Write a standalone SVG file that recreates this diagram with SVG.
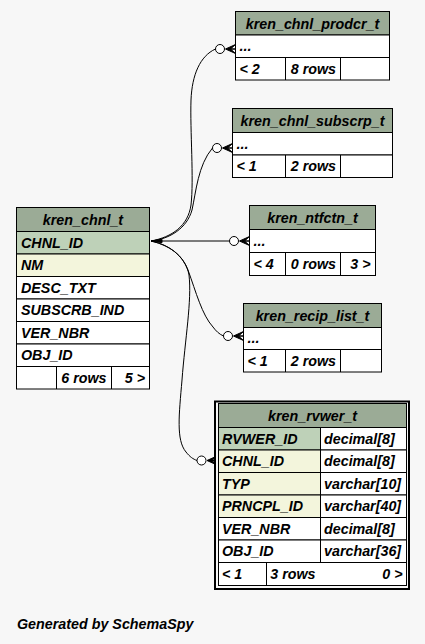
<svg xmlns="http://www.w3.org/2000/svg" width="425" height="644" viewBox="0 0 425 644">
<style>
.hd{fill:#9bab96;stroke:#000;stroke-width:1}
.pk{fill:#bed1b8;stroke:#000;stroke-width:1}
.ix{fill:#f3f5dc;stroke:#000;stroke-width:1}
.rw{fill:#fff;stroke:#000;stroke-width:1}
.ln{stroke:#000;stroke-width:1;fill:none}
text{font-family:"Liberation Sans",Arial,Helvetica,sans-serif;font-weight:bold;font-style:italic;font-size:14.3px;fill:#000}
.c{text-anchor:middle}
.r{text-anchor:end}
.edge{fill:none;stroke:#000;stroke-width:1}
.dot{fill:#fff;stroke:#000;stroke-width:1}
.crow{fill:#000;stroke:#000;stroke-width:1;stroke-linejoin:miter}
</style>
<rect x="0" y="0" width="425" height="644" fill="#f7f7f7"/>

<g id="connectors">
  <polygon class="crow" points="151,241 162,239.3 162,242.7"/>
  <!-- to kren_chnl_prodcr_t -->
  <path class="edge" d="M151,241 C172,237 188,226 191,205 C194,180 190,130 191,100 C192,75 200,56 215.5,49"/>
  <circle class="dot" cx="220" cy="49" r="4.5"/>
  <polygon class="crow" points="225.5,49 235.5,44.5 230.5,49 235.5,49 230.5,49 235.5,53.5"/>
  <!-- to kren_chnl_subscrp_t -->
  <path class="edge" d="M151,241 C170,239 187,228 192,210 C196,192 198,165 212.5,148"/>
  <circle class="dot" cx="217" cy="148" r="4.5"/>
  <polygon class="crow" points="222.5,148 232.5,143.5 227.5,148 232.5,148 227.5,148 232.5,152.5"/>
  <!-- to kren_ntfctn_t -->
  <path class="edge" d="M151,241 L229.5,241"/>
  <circle class="dot" cx="234" cy="241" r="4.5"/>
  <polygon class="crow" points="239.5,241 249.5,236.5 244.5,241 249.5,241 244.5,241 249.5,245.5"/>
  <!-- to kren_recip_list_t -->
  <path class="edge" d="M151,241 C170,245 182,255 188,270 C196,292 202,315 213,327 C216,331 219,334 223.5,336"/>
  <circle class="dot" cx="228" cy="336" r="4.5"/>
  <polygon class="crow" points="233.5,336 243.5,331.5 238.5,336 243.5,336 238.5,336 243.5,340.5"/>
  <!-- to kren_rvwer_t -->
  <path class="edge" d="M151,241 C172,246 186,258 189,275 C192,300 185,340 182,380 C179,415 176,440 186,452 C190,457 193,459 197,460.5"/>
  <circle class="dot" cx="201.5" cy="460.5" r="4.5"/>
  <polygon class="crow" points="207,460.5 217,456 212,460.5 217,460.5 212,460.5 217,465"/>
</g>

<g id="kren_chnl_t">
  <rect class="hd" x="16.5" y="207.5" width="133" height="24"/>
  <rect class="pk" x="16.5" y="231.5" width="133" height="22.5"/>
  <rect class="ix" x="16.5" y="254" width="133" height="22.5"/>
  <rect class="rw" x="16.5" y="276.5" width="133" height="22.5"/>
  <rect class="rw" x="16.5" y="299" width="133" height="22.5"/>
  <rect class="rw" x="16.5" y="321.5" width="133" height="22.5"/>
  <rect class="rw" x="16.5" y="344" width="133" height="22.5"/>
  <rect class="rw" x="16.5" y="366.5" width="133" height="22.5"/>
  <path class="ln" d="M56.5,366.5V389M111.5,366.5V389"/>
  <text class="c" x="83" y="224.5">kren_chnl_t</text>
  <text x="21" y="247.5">CHNL_ID</text>
  <text x="21" y="270">NM</text>
  <text x="21" y="292.5">DESC_TXT</text>
  <text x="21" y="315">SUBSCRB_IND</text>
  <text x="21" y="337.5">VER_NBR</text>
  <text x="21" y="360">OBJ_ID</text>
  <text class="r" x="106.5" y="382.5">6 rows</text>
  <text class="r" x="145" y="382.5">5 &gt;</text>
</g>

<g id="kren_chnl_prodcr_t">
  <rect class="hd" x="235.5" y="11.5" width="154" height="23.5"/>
  <rect class="rw" x="235.5" y="35" width="154" height="22.5"/>
  <rect class="rw" x="235.5" y="57.5" width="154" height="22.5"/>
  <path class="ln" d="M285.5,57.5V80M340.5,57.5V80"/>
  <text class="c" x="312.5" y="28.5">kren_chnl_prodcr_t</text>
  <text x="239.5" y="51">...</text>
  <text x="239.5" y="73.5">&lt; 2</text>
  <text class="r" x="336" y="73.5">8 rows</text>
</g>

<g id="kren_chnl_subscrp_t">
  <rect class="hd" x="232.5" y="108.5" width="160" height="24"/>
  <rect class="rw" x="232.5" y="132.5" width="160" height="22.5"/>
  <rect class="rw" x="232.5" y="155" width="160" height="22.5"/>
  <path class="ln" d="M285.5,155V177.5M340.5,155V177.5"/>
  <text class="c" x="312.5" y="125.5">kren_chnl_subscrp_t</text>
  <text x="236.5" y="148.5">...</text>
  <text x="236.5" y="171">&lt; 1</text>
  <text class="r" x="336" y="171">2 rows</text>
</g>

<g id="kren_ntfctn_t">
  <rect class="hd" x="249.5" y="205.5" width="126" height="24"/>
  <rect class="rw" x="249.5" y="229.5" width="126" height="23"/>
  <rect class="rw" x="249.5" y="252.5" width="126" height="23"/>
  <path class="ln" d="M285.5,252.5V275.5M340.5,252.5V275.5"/>
  <text class="c" x="312.5" y="222.5">kren_ntfctn_t</text>
  <text x="253.5" y="246">...</text>
  <text x="253.5" y="269">&lt; 4</text>
  <text class="r" x="336" y="269">0 rows</text>
  <text class="r" x="370.5" y="269">3 &gt;</text>
</g>

<g id="kren_recip_list_t">
  <rect class="hd" x="243.5" y="303.5" width="138" height="24"/>
  <rect class="rw" x="243.5" y="327.5" width="138" height="22"/>
  <rect class="rw" x="243.5" y="349.5" width="138" height="22.5"/>
  <path class="ln" d="M285.5,349.5V372M340.5,349.5V372"/>
  <text class="c" x="312.5" y="320.5">kren_recip_list_t</text>
  <text x="247.5" y="343">...</text>
  <text x="247.5" y="365.5">&lt; 1</text>
  <text class="r" x="336" y="365.5">2 rows</text>
</g>

<g id="kren_rvwer_t">
  <rect x="215" y="401.5" width="194" height="187.5" fill="#f7f7f7" stroke="#000" stroke-width="2"/>
  <rect class="hd" x="218.5" y="403.5" width="188" height="24"/>
  <rect class="pk" x="218.5" y="427.5" width="102" height="22.5"/>
  <rect class="rw" x="320.5" y="427.5" width="86" height="22.5"/>
  <rect class="ix" x="218.5" y="450" width="102" height="22.5"/>
  <rect class="rw" x="320.5" y="450" width="86" height="22.5"/>
  <rect class="ix" x="218.5" y="472.5" width="102" height="22.5"/>
  <rect class="rw" x="320.5" y="472.5" width="86" height="22.5"/>
  <rect class="ix" x="218.5" y="495" width="102" height="22.5"/>
  <rect class="rw" x="320.5" y="495" width="86" height="22.5"/>
  <rect class="rw" x="218.5" y="517.5" width="102" height="22.5"/>
  <rect class="rw" x="320.5" y="517.5" width="86" height="22.5"/>
  <rect class="rw" x="218.5" y="540" width="102" height="22.5"/>
  <rect class="rw" x="320.5" y="540" width="86" height="22.5"/>
  <rect class="rw" x="218.5" y="562.5" width="188" height="23"/>
  <path class="ln" d="M266.5,562.5V585.5"/>
  <text class="c" x="312.5" y="420.5">kren_rvwer_t</text>
  <text x="222" y="443.5">RVWER_ID</text>
  <text x="324" y="443.5">decimal[8]</text>
  <text x="222" y="466">CHNL_ID</text>
  <text x="324" y="466">decimal[8]</text>
  <text x="222" y="488.5">TYP</text>
  <text x="324" y="488.5">varchar[10]</text>
  <text x="222" y="511">PRNCPL_ID</text>
  <text x="324" y="511">varchar[40]</text>
  <text x="222" y="533.5">VER_NBR</text>
  <text x="324" y="533.5">decimal[8]</text>
  <text x="222" y="556">OBJ_ID</text>
  <text x="324" y="556">varchar[36]</text>
  <text x="222" y="579">&lt; 1</text>
  <text class="r" x="315.5" y="579">3 rows</text>
  <text class="r" x="402.5" y="579">0 &gt;</text>
</g>

<text x="17" y="628.5">Generated by SchemaSpy</text>
</svg>
